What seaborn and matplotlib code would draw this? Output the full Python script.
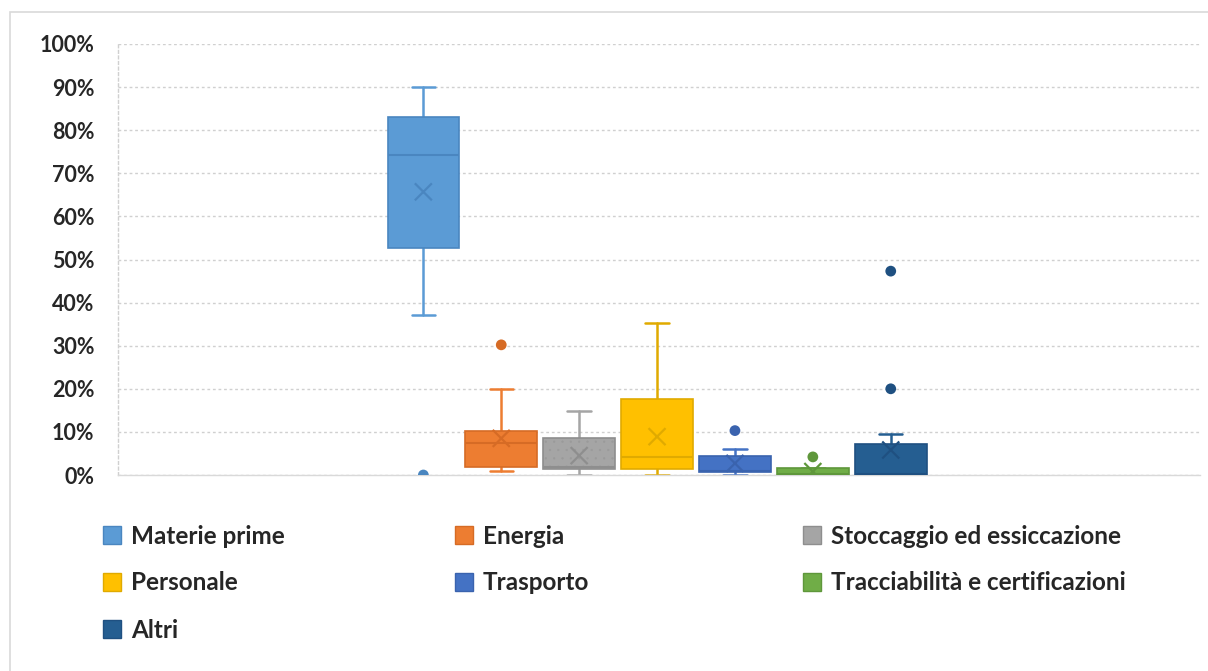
import numpy as np
import pandas as pd
import matplotlib
matplotlib.use("Agg")
import matplotlib.pyplot as plt
import seaborn as sns
from matplotlib.patches import Patch, PathPatch, Rectangle

# Cost shares (%) per cost item
categories = [
    "Materie prime",
    "Energia",
    "Stoccaggio ed essiccazione",
    "Personale",
    "Trasporto",
    "Tracciabilità e certificazioni",
    "Altri",
]
whisker_low = [37.1, 1.0, 0.0, 0.0, 0.0, 0.0, 0.0]
quartile_1 = [52.7, 1.9, 1.4, 1.5, 0.8, 0.0, 0.0]
median = [74.2, 7.4, 1.9, 4.2, 1.0, 0.3, 0.3]
quartile_3 = [83.1, 10.2, 8.5, 17.6, 4.3, 1.6, 7.1]
whisker_high = [90.0, 20.0, 14.9, 35.3, 6.0, 1.6, 9.4]
mean = [65.7, 8.5, 4.5, 8.9, 2.7, 0.8, 5.8]

outlier_category = ["Materie prime", "Energia", "Trasporto",
                    "Tracciabilità e certificazioni", "Altri", "Altri"]
outlier_value = [0.0, 30.2, 10.3, 4.2, 47.3, 20.0]

y_ticks = [0, 10, 20, 30, 40, 50, 60, 70, 80, 90, 100]

fills = ["#5B9BD5", "#ED7D31", "#A5A5A5", "#FFC000", "#4472C4", "#70AD47", "#255E91"]
edges = ["#4A86C0", "#D66B25", "#8E8E8E", "#E0AA00", "#3A63AE", "#5F973B", "#1F5081"]
patterned = {"Stoccaggio ed essiccazione": "#9A9A9A",
             "Tracciabilità e certificazioni": "#8FC06C"}

sns.set_theme(style="white")
plt.rcParams["font.family"] = ["Lato", "DejaVu Sans"]
plt.rcParams["hatch.linewidth"] = 0.4

W, H = 1208, 671
fig = plt.figure(figsize=(W / 100, H / 100), dpi=100)
ax = fig.add_axes([118 / W, 1 - 475 / H, 1082 / W, 431 / H])

positions = np.arange(len(categories))
stats = [
    dict(label=c, whislo=lo, q1=a, med=m, q3=b, whishi=hi, fliers=[])
    for c, lo, a, m, b, hi in zip(categories, whisker_low, quartile_1,
                                  median, quartile_3, whisker_high)
]
bp = ax.bxp(stats, positions=positions, widths=0.92, capwidths=0.3,
            patch_artist=True, showfliers=False, manage_ticks=False)

for i, cat in enumerate(categories):
    box = bp["boxes"][i]
    box.set_facecolor(fills[i])
    box.set_edgecolor(edges[i])
    box.set_linewidth(1.2)
    box.set_zorder(3)
    if cat in patterned:
        tex = PathPatch(box.get_path(), transform=box.get_transform(),
                        fill=False, hatch="..", edgecolor=patterned[cat],
                        linewidth=0, zorder=3.1)
        ax.add_patch(tex)
    for ln in bp["whiskers"][2 * i:2 * i + 2] + bp["caps"][2 * i:2 * i + 2]:
        ln.set_color(fills[i] if i != 3 else edges[i])
        ln.set_linewidth(1.8)
        ln.set_zorder(2.5)
    bp["medians"][i].set_color(edges[i])
    bp["medians"][i].set_linewidth(1.5)
    bp["medians"][i].set_zorder(3.2)

palette = dict(zip(categories, edges))
pos_of = dict(zip(categories, positions))

mean_df = pd.DataFrame({"categoria": categories, "pos": positions, "media": mean})
sns.scatterplot(data=mean_df, x="pos", y="media", hue="categoria", palette=palette,
                marker="x", s=150, linewidth=1.6, legend=False, zorder=5, ax=ax)

out_df = pd.DataFrame({"categoria": outlier_category,
                       "pos": [pos_of[c] for c in outlier_category],
                       "valore": outlier_value})
sns.scatterplot(data=out_df, x="pos", y="valore", hue="categoria", palette=palette,
                marker="o", s=60, linewidth=0, legend=False, zorder=5, ax=ax)

ax.set_xlim(-3.92, 9.97)
ax.set_ylim(0, 100)
ax.set_xlabel("")
ax.set_ylabel("")
ax.set_xticks([])
ax.set_yticks(y_ticks)
ax.set_yticklabels([f"{v}%" for v in y_ticks], fontweight="bold")
ax.tick_params(axis="y", length=0, pad=17, labelsize=15.5, labelcolor="#262626")

ax.yaxis.grid(True, linestyle=(0, (2, 2)), color="#D0D0D0", linewidth=1)
ax.xaxis.grid(False)
ax.set_axisbelow(True)
for side in ("top", "right"):
    ax.spines[side].set_visible(False)
ax.spines["bottom"].set_color("#D9D9D9")
ax.spines["bottom"].set_linewidth(1)
ax.spines["left"].set_color("#D0D0D0")
ax.spines["left"].set_linestyle((0, (2, 2)))
ax.spines["left"].set_linewidth(1)

# Legend: three columns, filled row by row
legend_x = [103, 455, 803]
legend_y = [536, 583, 630]
for i, cat in enumerate(categories):
    col, row = i % 3, i // 3
    fig.legend(handles=[Patch(facecolor=fills[i], edgecolor=edges[i], linewidth=1)],
               labels=[cat], loc="center left",
               bbox_to_anchor=(legend_x[col] / W, 1 - legend_y[row] / H),
               frameon=False, borderpad=0, borderaxespad=0,
               handlelength=0.75, handleheight=0.75, handletextpad=0.4,
               prop=dict(weight="bold", size=17.5), labelcolor="#262626")

# Chart area border
fig.add_artist(Rectangle((10 / W, -0.05), 1.2, 1 - 12 / H + 0.05,
                         transform=fig.transFigure, fill=False,
                         edgecolor="#D9D9D9", linewidth=1.2))

fig.savefig("out.png", dpi=100)
